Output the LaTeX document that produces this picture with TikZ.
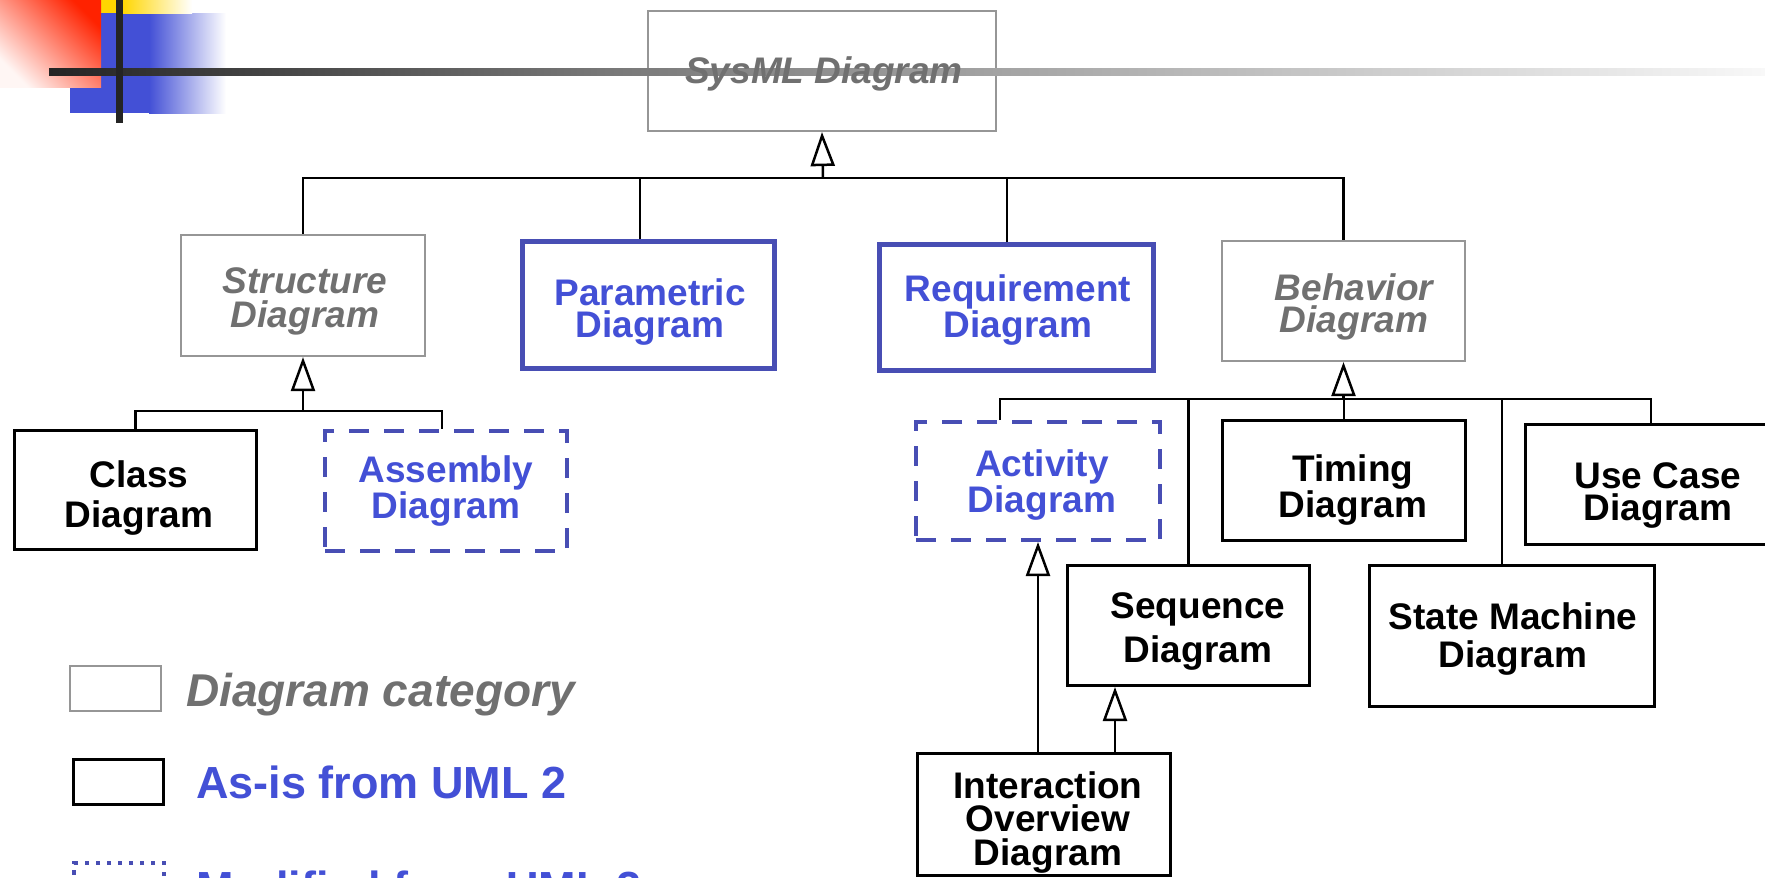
\documentclass[tikz,border=0pt]{standalone}
\usepackage{fontspec}
\setmainfont{Liberation Sans}
\usetikzlibrary{arrows.meta}
\definecolor{catgray}{RGB}{150,150,150}
\definecolor{cattext}{RGB}{112,112,112}
\definecolor{sysblue}{RGB}{67,80,214}
\definecolor{sysedge}{RGB}{72,78,180}
\definecolor{barblack}{RGB}{36,36,36}
\definecolor{barmid}{RGB}{119,119,119}
\definecolor{barlight}{RGB}{248,248,248}
\definecolor{decored}{RGB}{255,34,0}
\definecolor{decopale}{RGB}{255,246,244}
\definecolor{decoblue}{RGB}{67,80,214}
\definecolor{decoyellow}{RGB}{255,214,0}
\tikzset{
  catbox/.style={draw=catgray, line width=2.2pt, fill=none, inner sep=0pt},
  umlbox/.style={draw=black, line width=3pt, fill=white, inner sep=0pt},
  newbox/.style={draw=sysedge, line width=4.5pt, fill=white, inner sep=0pt},
  modbox/.style={draw=sysedge, line width=4pt, dash pattern=on 20pt off 15pt, fill=white, inner sep=0pt},
  % multi-line labels are placed by the baseline of their last line
  lbl/.style={anchor=base, align=center, inner sep=0pt, font=\bfseries\fontsize{37}{#1}\selectfont},
  cattxt/.style={lbl=#1, text=cattext, font=\bfseries\itshape\fontsize{37}{#1}\selectfont},
  umltxt/.style={lbl=#1, text=black},
  newtxt/.style={lbl=#1, text=sysblue},
  conn/.style={draw=black, line width=2.5pt},
  gen/.style={conn, -{Triangle[open, length=34pt, width=24pt]}},
}
\begin{document}
\begin{tikzpicture}[x=1pt, y=-1pt]
\path[use as bounding box, clip] (0,0) rectangle (1765,878);

% corner ornament
\fill[decoblue] (70,13) rectangle (149,113);
\shade[left color=decoblue, right color=white] (149,13) rectangle (226,113);
\fill[decoyellow] (101,0) rectangle (122,13);
\shade[left color=decoyellow, right color=white] (122,0) rectangle (192,13);
\shade[top color=decored, bottom color=decopale, shading angle=-45] (0,0) rectangle (101,87);

% top category box, crossed by the title rule
\node[catbox, minimum width=348pt, minimum height=120pt] (sysml) at (822,71) {};
\shade[left color=barblack, right color=barmid] (49,68) rectangle (600,75);
\shade[left color=barmid, right color=barlight] (600,68) rectangle (1765,75);
\fill[barblack] (116,0) rectangle (122.5,123);
\node[cattxt=40] (t-sysml) at (824,83) {SysML Diagram};

% second level
\node[catbox, minimum width=244pt, minimum height=121pt] (struct) at (303,295.5) {};
\node[newbox, minimum width=252pt, minimum height=127pt] (param) at (648.5,305) {};
\node[newbox, minimum width=274pt, minimum height=126pt] (req) at (1016.5,307.5) {};
\node[catbox, minimum width=243pt, minimum height=120pt] (beh) at (1343.5,301) {};

\node[cattxt=34] (t-struct) at (305,327) {Structure\\Diagram};
\node[newtxt=32] (t-param) at (650,337) {Parametric\\Diagram};
\node[newtxt=32] (t-req) at (1018,337) {Requirement\\Diagram};
\node[cattxt=32] (t-beh) at (1354,332) {Behavior\\Diagram};

% structure children
\node[umlbox, minimum width=242pt, minimum height=119pt] (cls) at (135.5,490) {};
\node[modbox, minimum width=242pt, minimum height=120pt] (asm) at (446,491) {};
\node[umltxt=40] (t-cls) at (139,527) {Class\\Diagram};
\node[newtxt=31] (t-asm) at (446,518) {Assembly\\Diagram};

% behavior children
\node[modbox, minimum width=244pt, minimum height=118pt] (act) at (1038,481) {};
\node[umlbox, minimum width=243pt, minimum height=120pt] (timing) at (1344,480.5) {};
\node[umlbox, minimum width=265pt, minimum height=120pt] (uc) at (1658,484.5) {};
\node[umlbox, minimum width=242pt, minimum height=120pt] (seq) at (1188.5,625.5) {};
\node[umlbox, minimum width=285pt, minimum height=141pt] (sm) at (1512,636) {};
\node[umlbox, minimum width=253pt, minimum height=122pt] (io) at (1044,814.5) {};

\node[newtxt=33] (t-act) at (1042,512) {Activity\\Diagram};
\node[umltxt=34] (t-timing) at (1353,517) {Timing\\Diagram};
\node[umltxt=32] (t-uc) at (1658,520) {Use Case\\Diagram};
\node[umltxt=44] (t-seq) at (1198,662) {Sequence\\Diagram};
\node[umltxt=38] (t-sm) at (1513,667) {State Machine\\Diagram};
\node[umltxt=33.5] (t-io) at (1048,865) {Interaction\\Overview\\Diagram};

% generalization tree under the top category
\coordinate (topbus) at (823,178);
\draw[conn] (struct.north) |- (topbus) -| (beh.north);
\draw[conn] ([xshift=-8.5pt]param.north) -- ([xshift=-8.5pt]param.north |- topbus);
\draw[conn] ([xshift=-9.5pt]req.north) -- ([xshift=-9.5pt]req.north |- topbus);
\draw[gen] (topbus) -- (sysml.south);

% structure branch
\coordinate (strbus) at (303,411);
\draw[conn] (cls.north) |- (strbus) -| ([xshift=-4pt]asm.north);
\draw[gen] (strbus) -- (struct.south);

% behavior branch
\coordinate (behbus) at (1343.5,399);
\draw[conn] ([xshift=-38pt]act.north) |- (behbus) -| ([xshift=-7pt]uc.north);
\draw[conn] (timing.north) -- (timing.north |- behbus);
\draw[conn] (seq.north) -- (seq.north |- behbus);
\draw[conn] ([xshift=-10pt]sm.north) -- ([xshift=-10pt]sm.north |- behbus);
\draw[gen] (behbus) -- (beh.south);

% interaction overview specializes activity and sequence
\draw[gen] ([xshift=-6pt]io.north) -- ([xshift=-6pt]io.north |- act.south);
\draw[gen] ([xshift=71pt]io.north) -- ([xshift=71pt]io.north |- seq.south);

% legend
\node[catbox, minimum width=91pt, minimum height=45pt] (lg-cat) at (115.5,688.5) {};
\node[umlbox, minimum width=90pt, minimum height=45pt] (lg-uml) at (118.5,782) {};
\node[draw=sysedge, line width=4pt, dash pattern=on 4.5pt off 6.5pt, minimum width=90pt, minimum height=44pt, inner sep=0pt] (lg-mod) at (119,885) {};
\node[anchor=base west, inner sep=0pt, text=cattext, font=\bfseries\itshape\fontsize{46}{50}\selectfont] (t-lg-cat) at (186,706) {Diagram category};
\node[anchor=base west, inner sep=0pt, text=sysblue, font=\bfseries\fontsize{45}{50}\selectfont] (t-lg-uml) at (196,798) {As-is from UML 2};
\node[anchor=base west, inner sep=0pt, text=sysblue, font=\bfseries\fontsize{45}{50}\selectfont] (t-lg-mod) at (196,903) {Modified from UML 2};
\end{tikzpicture}
\end{document}
